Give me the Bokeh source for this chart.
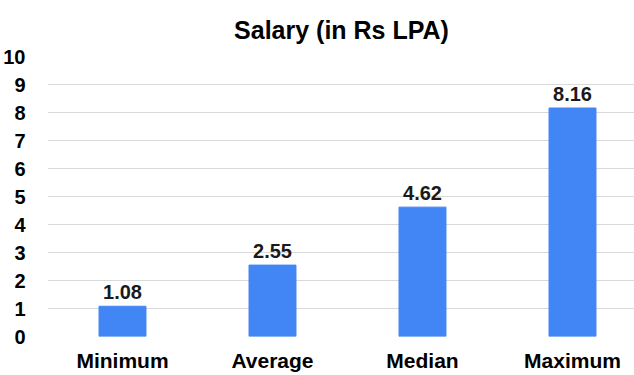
from bokeh.plotting import figure
from bokeh.models import ColumnDataSource, Range1d, FixedTicker, LabelSet
from bokeh.core.properties import value
from bokeh.embed import file_html
from bokeh.resources import INLINE

categories = ["Minimum", "Average", "Median", "Maximum"]
salaries = [1.08, 2.55, 4.62, 8.16]
y_ticks = list(range(0, 11))

xs = [i + 0.5 for i in range(len(categories))]
labels = [f"{v:.2f}" for v in salaries]
src = ColumnDataSource(dict(x=xs, top=salaries, label=labels))

FONT = "Liberation Sans"

p = figure(frame_width=588, frame_height=280, output_backend="svg", toolbar_location=None,
           x_range=Range1d(0, 3.92), y_range=Range1d(0, 10),
           min_border_left=46, min_border_right=0, min_border_top=56, min_border_bottom=36,
           title="Salary (in Rs LPA)")
p.outline_line_color = None
p.title.align = "center"
p.title.text_font = FONT
p.title.text_font_size = "25px"
p.title.text_font_style = "bold"
p.title.text_color = "#000000"
p.title.standoff = 25

p.vbar(x="x", top="top", width=0.313, bottom=0, source=src, color="#4285F4")

p.add_layout(LabelSet(x="x", y="top", text="label", source=src, text_align="center",
                      text_baseline="bottom", y_offset=7, text_font=value(FONT),
                      text_font_size=value("20px"), text_font_style="bold", text_color="#1a1a1a"))

p.xaxis.ticker = FixedTicker(ticks=xs)
p.xaxis.major_label_overrides = {x: c for x, c in zip(xs, categories)}
p.yaxis.ticker = FixedTicker(ticks=y_ticks)
for ax in (p.xaxis, p.yaxis):
    ax.axis_line_color = None
    ax.major_tick_line_color = None
    ax.minor_tick_line_color = None
    ax.major_label_text_font = FONT
    ax.major_label_text_font_style = "bold"
    ax.major_label_text_color = "#000000"
p.xaxis.major_label_text_font_size = "21px"
p.xaxis.major_label_standoff = 6
p.yaxis.major_label_text_font_size = "20px"
p.yaxis.major_label_standoff = 16
p.xgrid.grid_line_color = None
p.ygrid.ticker = FixedTicker(ticks=y_ticks)
p.ygrid.grid_line_color = "#d9d9d9"

open("out.html", "w").write(file_html(p, INLINE))
